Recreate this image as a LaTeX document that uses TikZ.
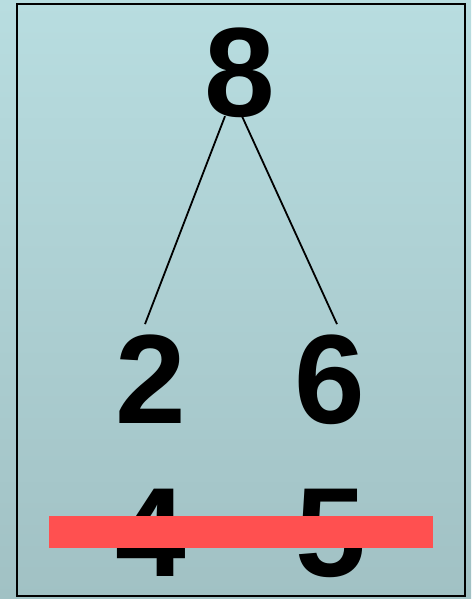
\documentclass[tikz,border=0pt]{standalone}
\usepackage{fontspec}
\setmainfont{Liberation Sans}
\usepackage{tikz}
\usetikzlibrary{positioning, calc}
\usepackage{xcolor}
\definecolor{skyTop}{RGB}{184,221,224}
\definecolor{skyBottom}{RGB}{161,193,196}
\definecolor{strikeRed}{RGB}{255,80,80}

\begin{document}
\begin{tikzpicture}[
  x=1pt, y=-1pt,
  digit/.style={
    inner sep=0pt, anchor=base, text depth=0pt,
    font=\fontsize{127}{127}\selectfont\bfseries
  },
  edge/.style={line width=1.8pt, black}
]
  \useasboundingbox (0,0) rectangle (471,599);
  \shade[top color=skyTop, bottom color=skyBottom] (0,0) rectangle (471,599);
  \draw[line width=1.8pt] (17,4) rectangle (465,596);

  \node[digit] (n8) at (240,117) {8};
  \node[digit] (n2) at (151,423) {2};
  \node[digit] (n6) at (330,423) {6};
  \node[digit] (n4) at (151,576) {4};
  \node[digit] (n5) at (331,576) {5};

  % branches
  \draw[edge] ([xshift=-15pt,yshift=1pt]n8.south) -- ([xshift=-6pt,yshift=10pt]n2.north);
  \draw[edge] ([xshift=2pt,yshift=1pt]n8.south) -- ([xshift=7pt,yshift=10pt]n6.north);

  % strike-through bar
  \fill[strikeRed] (49,516) rectangle (433,548);
\end{tikzpicture}
\end{document}
